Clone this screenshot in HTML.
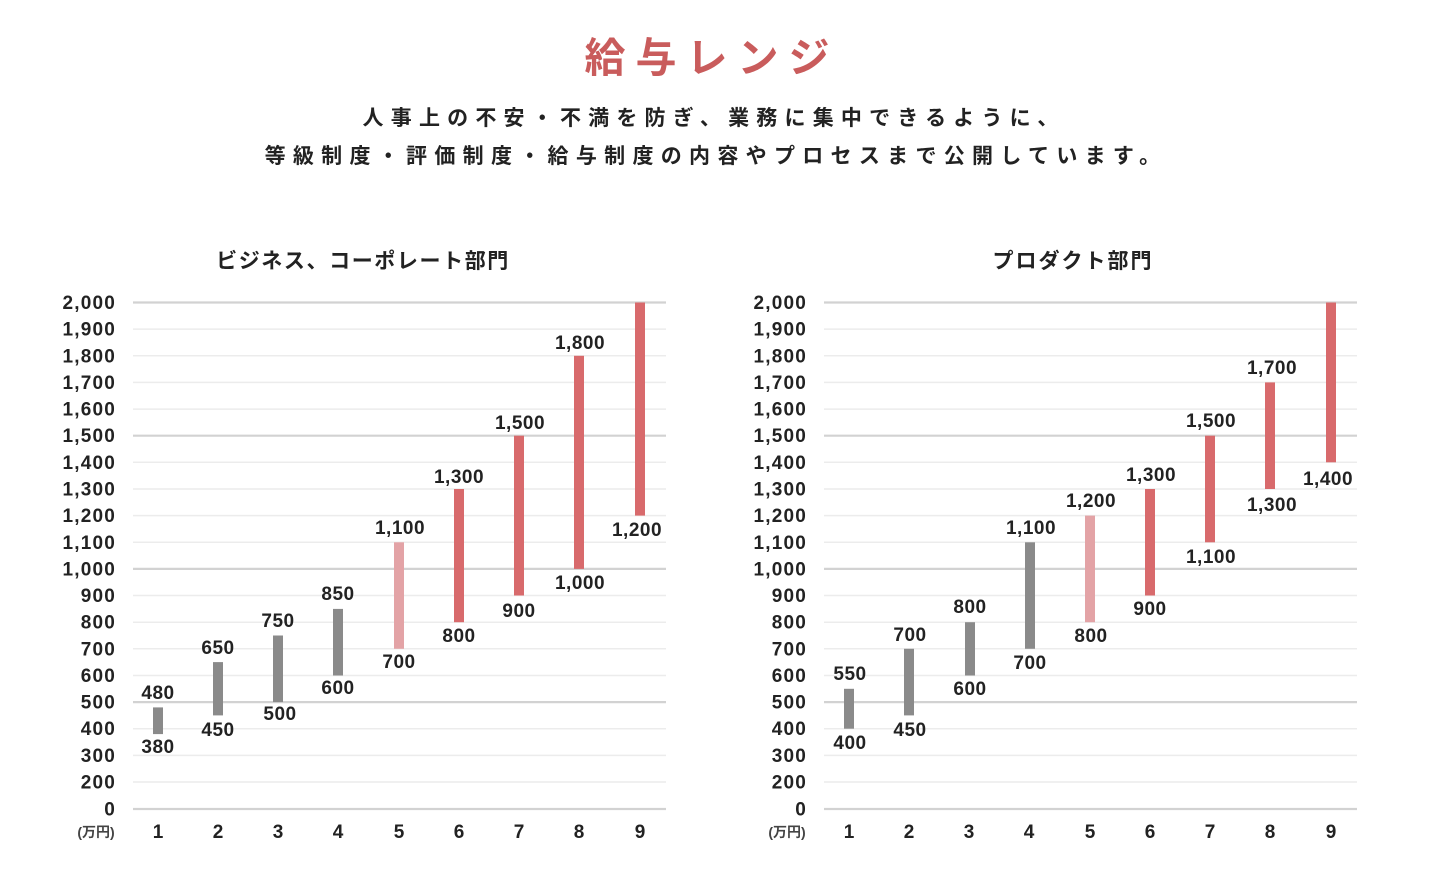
<!DOCTYPE html>
<html><head><meta charset="utf-8"><style>
html,body{margin:0;padding:0;background:#fff;width:1440px;height:878px;overflow:hidden}
svg{display:block}
text{font-family:"Liberation Sans","Noto Sans CJK JP",sans-serif;font-weight:bold;fill:#222}
.yl{font-size:19px;text-anchor:end;letter-spacing:1.2px}
.vl{font-size:19px;text-anchor:middle;letter-spacing:0.5px}
.xl{font-size:19px;text-anchor:middle}
.g{stroke:#ececec;stroke-width:1.5}
.G{stroke:#d2d2d2;stroke-width:2.2}
</style></head><body>
<svg width="1440" height="878" viewBox="0 0 1440 878">
<text x="712" y="72" font-size="41" text-anchor="middle" letter-spacing="10" style="fill:#c95c5c;font-weight:bold">給与レンジ</text>
<text x="714" y="125" font-size="21" text-anchor="middle" letter-spacing="7.2">人事上の不安・不満を防ぎ、業務に集中できるように、</text>
<text x="716" y="163" font-size="21" text-anchor="middle" letter-spacing="7.3">等級制度・評価制度・給与制度の内容やプロセスまで公開しています。</text>

<text x="363" y="268" font-size="21" text-anchor="middle" letter-spacing="1.6">ビジネス、コーポレート部門</text>
<text x="1073" y="268" font-size="21" text-anchor="middle" letter-spacing="2">プロダクト部門</text>

<g id="L">
<line class="G" x1="133" x2="666" y1="302.5" y2="302.5"/>
<line class="g" x1="133" x2="666" y1="329.1" y2="329.1"/>
<line class="g" x1="133" x2="666" y1="355.8" y2="355.8"/>
<line class="g" x1="133" x2="666" y1="382.4" y2="382.4"/>
<line class="g" x1="133" x2="666" y1="409.1" y2="409.1"/>
<line class="G" x1="133" x2="666" y1="435.7" y2="435.7"/>
<line class="g" x1="133" x2="666" y1="462.3" y2="462.3"/>
<line class="g" x1="133" x2="666" y1="489" y2="489"/>
<line class="g" x1="133" x2="666" y1="515.6" y2="515.6"/>
<line class="g" x1="133" x2="666" y1="542.3" y2="542.3"/>
<line class="G" x1="133" x2="666" y1="568.9" y2="568.9"/>
<line class="g" x1="133" x2="666" y1="595.5" y2="595.5"/>
<line class="g" x1="133" x2="666" y1="622.2" y2="622.2"/>
<line class="g" x1="133" x2="666" y1="648.8" y2="648.8"/>
<line class="g" x1="133" x2="666" y1="675.5" y2="675.5"/>
<line class="G" x1="133" x2="666" y1="702.1" y2="702.1"/>
<line class="g" x1="133" x2="666" y1="728.7" y2="728.7"/>
<line class="g" x1="133" x2="666" y1="755.4" y2="755.4"/>
<line class="g" x1="133" x2="666" y1="782" y2="782"/>
<line class="G" x1="133" x2="666" y1="809" y2="809"/>
<text class="yl" x="116" y="309">2,000</text>
<text class="yl" x="116" y="335.6">1,900</text>
<text class="yl" x="116" y="362.3">1,800</text>
<text class="yl" x="116" y="388.9">1,700</text>
<text class="yl" x="116" y="415.6">1,600</text>
<text class="yl" x="116" y="442.2">1,500</text>
<text class="yl" x="116" y="468.8">1,400</text>
<text class="yl" x="116" y="495.5">1,300</text>
<text class="yl" x="116" y="522.1">1,200</text>
<text class="yl" x="116" y="548.8">1,100</text>
<text class="yl" x="116" y="575.4">1,000</text>
<text class="yl" x="116" y="602">900</text>
<text class="yl" x="116" y="628.7">800</text>
<text class="yl" x="116" y="655.3">700</text>
<text class="yl" x="116" y="682">600</text>
<text class="yl" x="116" y="708.6">500</text>
<text class="yl" x="116" y="735.2">400</text>
<text class="yl" x="116" y="761.9">300</text>
<text class="yl" x="116" y="788.5">200</text>
<text class="yl" x="116" y="815.5">0</text>
<text x="96" y="837" font-size="14" text-anchor="middle" style="fill:#444">(万円)</text>
<text class="xl" x="158" y="838">1</text>
<text class="xl" x="218" y="838">2</text>
<text class="xl" x="278" y="838">3</text>
<text class="xl" x="338" y="838">4</text>
<text class="xl" x="399" y="838">5</text>
<text class="xl" x="459" y="838">6</text>
<text class="xl" x="519" y="838">7</text>
<text class="xl" x="579" y="838">8</text>
<text class="xl" x="640" y="838">9</text>
</g>
<use href="#L" transform="translate(691,0)"/>

<g>
<rect x="153" y="707.4" width="10" height="26.7" fill="#8a8a8a"/>
<rect x="213" y="662.1" width="10" height="53.3" fill="#8a8a8a"/>
<rect x="273" y="635.5" width="10" height="66.6" fill="#8a8a8a"/>
<rect x="333" y="608.9" width="10" height="66.6" fill="#8a8a8a"/>
<rect x="394" y="542.3" width="10" height="106.5" fill="#e3a3a6"/>
<rect x="454" y="489" width="10" height="133.2" fill="#d86a6c"/>
<rect x="514" y="435.7" width="10" height="159.8" fill="#d86a6c"/>
<rect x="574" y="355.8" width="10" height="213.1" fill="#d86a6c"/>
<rect x="635" y="302.5" width="10" height="213.1" fill="#d86a6c"/>
<text class="vl" x="158" y="699">480</text><text class="vl" x="158" y="753">380</text>
<text class="vl" x="218" y="654">650</text><text class="vl" x="218" y="736">450</text>
<text class="vl" x="278" y="627">750</text><text class="vl" x="280" y="720">500</text>
<text class="vl" x="338" y="600">850</text><text class="vl" x="338" y="694">600</text>
<text class="vl" x="400" y="534">1,100</text><text class="vl" x="399" y="668">700</text>
<text class="vl" x="459" y="483">1,300</text><text class="vl" x="459" y="642">800</text>
<text class="vl" x="520" y="429">1,500</text><text class="vl" x="519" y="617">900</text>
<text class="vl" x="580" y="349">1,800</text><text class="vl" x="580" y="589">1,000</text>
<text class="vl" x="637" y="536">1,200</text>
</g>
<g>
<rect x="844" y="688.8" width="10" height="39.9" fill="#8a8a8a"/>
<rect x="904" y="648.8" width="10" height="66.6" fill="#8a8a8a"/>
<rect x="965" y="622.2" width="10" height="53.3" fill="#8a8a8a"/>
<rect x="1025" y="542.3" width="10" height="106.5" fill="#8a8a8a"/>
<rect x="1085" y="515.6" width="10" height="106.6" fill="#e3a3a6"/>
<rect x="1145" y="489" width="10" height="106.5" fill="#d86a6c"/>
<rect x="1205" y="435.7" width="10" height="106.6" fill="#d86a6c"/>
<rect x="1265" y="382.4" width="10" height="106.6" fill="#d86a6c"/>
<rect x="1326" y="302.5" width="10" height="159.8" fill="#d86a6c"/>
<text class="vl" x="850" y="680">550</text><text class="vl" x="850" y="749">400</text>
<text class="vl" x="910" y="641">700</text><text class="vl" x="910" y="736">450</text>
<text class="vl" x="970" y="613">800</text><text class="vl" x="970" y="695">600</text>
<text class="vl" x="1031" y="534">1,100</text><text class="vl" x="1030" y="669">700</text>
<text class="vl" x="1091" y="507">1,200</text><text class="vl" x="1091" y="642">800</text>
<text class="vl" x="1151" y="481">1,300</text><text class="vl" x="1150" y="615">900</text>
<text class="vl" x="1211" y="427">1,500</text><text class="vl" x="1211" y="563">1,100</text>
<text class="vl" x="1272" y="374">1,700</text><text class="vl" x="1272" y="511">1,300</text>
<text class="vl" x="1328" y="485">1,400</text>
</g>
</svg>
</body></html>
